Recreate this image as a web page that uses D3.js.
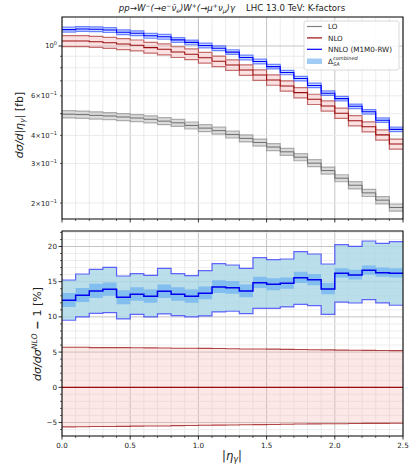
<!DOCTYPE html>
<html>
<head>
<meta charset="utf-8">
<script src="https://cdn.jsdelivr.net/npm/d3@7"></script>
<style>
  body { margin: 0; background: #fff; }
  text { font-family: "DejaVu Sans", sans-serif; fill: #222; }
</style>
</head>
<body>
<svg id="chart" width="410" height="465"></svg>
<script>
// bin edges in |eta_gamma|
const etaEdges = [0.0,0.1,0.2,0.3,0.4,0.5,0.6,0.7,0.8,0.9,1.0,1.1,1.2,1.3,1.4,1.5,1.6,1.7,1.8,1.9,2.0,2.1,2.2,2.3,2.4,2.5];

// top panel: cross sections [fb]
const loXsec  = [0.497,0.495,0.491,0.488,0.483,0.478,0.472,0.463,0.455,0.443,0.431,0.420,0.404,0.388,0.372,0.355,0.338,0.320,0.301,0.279,0.258,0.240,0.222,0.206,0.191];
const loErrPct = [3.7,3.7,3.7,3.6,3.6,3.6,3.6,3.6,3.6,3.6,3.6,3.6,3.6,3.6,3.6,3.6,3.6,3.6,3.6,3.6,3.6,3.7,3.7,3.7,3.7];
const nloXsec = [1.053,1.053,1.045,1.034,1.021,1.007,0.983,0.967,0.940,0.919,0.887,0.855,0.823,0.782,0.743,0.706,0.664,0.620,0.579,0.541,0.502,0.465,0.437,0.402,0.366];
const nnloBandPct = [2.5,2.5,2.5,2.5,2.5,2.5,2.5,2.5,2.4,2.4,2.4,2.4,2.4,2.4,2.4,2.3,2.3,2.3,2.3,2.3,2.3,2.3,2.3,2.3,2.3];

// bottom panel: ratio to NLO - 1 [%]
const nloUp = [5.68,5.68,5.63,5.63,5.63,5.62,5.60,5.58,5.54,5.54,5.52,5.50,5.48,5.44,5.44,5.42,5.38,5.36,5.34,5.32,5.28,5.26,5.24,5.22,5.21];
const nloDn = [-5.62,-5.60,-5.58,-5.56,-5.55,-5.52,-5.50,-5.50,-5.45,-5.42,-5.40,-5.38,-5.35,-5.33,-5.30,-5.28,-5.25,-5.22,-5.20,-5.18,-5.17,-5.15,-5.13,-5.12,-5.11];
const nnloRatio = [12.36,13.07,13.68,13.92,12.78,13.21,12.93,13.64,13.21,12.93,13.35,14.25,14.15,13.68,14.86,14.63,14.77,15.57,15.29,13.96,16.19,15.95,16.62,16.28,16.19];
const innerHi = [13.4,14.1,14.7,14.9,13.8,14.2,13.9,14.6,14.2,13.9,14.3,15.2,15.1,14.6,15.7,15.5,15.6,16.4,16.1,14.8,16.9,16.7,17.3,17.0,16.9];
const innerLo = [11.4,12.1,12.7,13.0,11.8,12.3,12.0,12.7,12.3,12.0,12.5,13.4,13.3,12.8,14.1,13.8,14.0,14.8,14.5,13.2,15.6,15.3,16.0,15.7,15.6];
const deltaUp = [15.24,16.09,16.76,17.04,15.81,16.14,15.91,16.90,16.14,15.86,16.56,17.56,17.37,16.90,18.41,18.13,18.22,19.26,18.93,17.51,20.26,20.03,20.78,20.45,20.68];
const deltaDn = [9.52,9.99,10.51,10.60,9.71,10.37,9.99,10.42,10.18,9.99,10.13,10.70,10.80,10.46,11.22,11.22,11.41,11.79,11.60,10.37,12.10,11.97,12.44,12.00,11.65];

// tick labels
const xTickVals = [0.0,0.5,1.0,1.5,2.0,2.5];
const topTickLabels = [[1.0,'10','0'],[0.6,'6×10','−1'],[0.4,'4×10','−1'],[0.3,'3×10','−1'],[0.2,'2×10','−1']];
const topMinor = [0.2,0.3,0.4,0.5,0.6,0.7,0.8,0.9];
const botTickVals = [-5,0,5,10,15,20];

const svg = d3.select('#chart');

const x = d3.scaleLinear().domain([0, 2.5]).range([62, 403]);
const yTop = d3.scaleLog().domain([0.1698, 1.346]).range([219, 17]);
const yBot = d3.scaleLinear().domain([-6.92, 22.2]).range([436, 231]);

function steps(vals) {
  const pts = vals.map((v, i) => [etaEdges[i], v]);
  pts.push([etaEdges[vals.length], vals[vals.length - 1]]);
  return pts;
}

function drawBand(g, y, lo, hi, fill, op) {
  const pts = lo.map((v, i) => [etaEdges[i], v, hi[i]]);
  pts.push([etaEdges[lo.length], lo[lo.length - 1], hi[hi.length - 1]]);
  g.append('path')
    .datum(pts)
    .attr('d', d3.area().curve(d3.curveStepAfter)
      .x(d => x(d[0])).y0(d => y(d[1])).y1(d => y(d[2])))
    .attr('fill', fill).attr('fill-opacity', op);
}

function drawStep(g, y, vals, color, w, op) {
  g.append('path')
    .datum(steps(vals))
    .attr('d', d3.line().curve(d3.curveStepAfter).x(d => x(d[0])).y(d => y(d[1])))
    .attr('fill', 'none').attr('stroke', color)
    .attr('stroke-width', w).attr('stroke-opacity', op);
}

const defs = svg.append('defs');
defs.append('clipPath').attr('id', 'clipTop').append('rect')
  .attr('x', 62).attr('y', 17).attr('width', 341).attr('height', 202);
defs.append('clipPath').attr('id', 'clipBot').append('rect')
  .attr('x', 62).attr('y', 231).attr('width', 341).attr('height', 205);

const minorX = d3.range(0, 26).map(i => i / 10);

// ---------- grids ----------
function vGrid(y0, y1) {
  minorX.forEach(v => {
    const major = Math.abs(v * 2 - Math.round(v * 2)) < 1e-6;
    svg.append('line')
      .attr('x1', x(v)).attr('x2', x(v)).attr('y1', y0).attr('y2', y1)
      .attr('stroke', major ? '#c4c4c4' : '#e6e6e6').attr('stroke-width', major ? 1 : 0.8);
  });
}
vGrid(17, 219);
vGrid(231, 436);

topMinor.concat([1.0]).forEach(v => {
  svg.append('line')
    .attr('x1', 62).attr('x2', 403).attr('y1', yTop(v)).attr('y2', yTop(v))
    .attr('stroke', v === 1.0 ? '#c4c4c4' : '#e6e6e6').attr('stroke-width', v === 1.0 ? 1 : 0.8);
});
d3.range(-6, 23).forEach(v => {
  const major = v % 5 === 0;
  svg.append('line')
    .attr('x1', 62).attr('x2', 403).attr('y1', yBot(v)).attr('y2', yBot(v))
    .attr('stroke', major ? '#c4c4c4' : '#e8e8e8').attr('stroke-width', major ? 1 : 0.8);
});

// ---------- top panel ----------
const gTop = svg.append('g').attr('clip-path', 'url(#clipTop)');

const loLo = loXsec.map((v, i) => v * (1 - loErrPct[i] / 100));
const loHi = loXsec.map((v, i) => v * (1 + loErrPct[i] / 100));
drawBand(gTop, yTop, loLo, loHi, '#b8b8b8', 0.5);
drawStep(gTop, yTop, loLo, '#808080', 1.2, 0.6);
drawStep(gTop, yTop, loHi, '#808080', 1.2, 0.6);
drawStep(gTop, yTop, loXsec, '#6e6e6e', 1, 1);

const nloLo = nloXsec.map((v, i) => v * (1 + nloDn[i] / 100));
const nloHi = nloXsec.map((v, i) => v * (1 + nloUp[i] / 100));
drawBand(gTop, yTop, nloLo, nloHi, '#f4a8a8', 0.35);
drawStep(gTop, yTop, nloLo, '#a01818', 1.2, 0.6);
drawStep(gTop, yTop, nloHi, '#a01818', 1.2, 0.6);
drawStep(gTop, yTop, nloXsec, '#9b0d0d', 1.1, 1);

const nnloXsec = nloXsec.map((v, i) => v * (1 + nnloRatio[i] / 100));
const nnloLo = nnloXsec.map((v, i) => v * (1 - nnloBandPct[i] / 100));
const nnloHi = nnloXsec.map((v, i) => v * (1 + nnloBandPct[i] / 100));
drawBand(gTop, yTop, nnloLo, nnloHi, '#7fa8ff', 0.45);
drawStep(gTop, yTop, nnloLo, '#1f3fff', 1.2, 0.6);
drawStep(gTop, yTop, nnloHi, '#1f3fff', 1.2, 0.6);
drawStep(gTop, yTop, nnloXsec, '#0000ff', 1.1, 1);

// ---------- bottom panel ----------
const gBot = svg.append('g').attr('clip-path', 'url(#clipBot)');
drawBand(gBot, yBot, nloDn, nloUp, '#f7b4b4', 0.3);
drawStep(gBot, yBot, nloUp, '#a01818', 1.1, 0.8);
drawStep(gBot, yBot, nloDn, '#a01818', 1.1, 0.8);
drawStep(gBot, yBot, nloXsec.map(() => 0), '#9b0d0d', 1.2, 1);

drawBand(gBot, yBot, deltaDn, deltaUp, '#a9d6e5', 0.8);
drawBand(gBot, yBot, innerLo, innerHi, '#5ea8f2', 0.6);
drawStep(gBot, yBot, deltaUp, '#2a2aff', 1.2, 0.7);
drawStep(gBot, yBot, deltaDn, '#2a2aff', 1.2, 0.7);
drawStep(gBot, yBot, nnloRatio, '#0000f0', 1.5, 1);

// ---------- frames ----------
[[17, 219], [231, 436]].forEach(([t, b]) => {
  svg.append('rect').attr('x', 62).attr('y', t).attr('width', 341).attr('height', b - t)
    .attr('fill', 'none').attr('stroke', '#000').attr('stroke-width', 1);
});

// ---------- ticks ----------
function xTicks(yb, labels) {
  minorX.forEach(v => {
    const major = Math.abs(v * 2 - Math.round(v * 2)) < 1e-6;
    svg.append('line').attr('x1', x(v)).attr('x2', x(v))
      .attr('y1', yb).attr('y2', yb + (major ? 3.5 : 2))
      .attr('stroke', '#000').attr('stroke-width', major ? 0.8 : 0.6);
  });
  if (labels) {
    xTickVals.forEach(v => {
      svg.append('text').attr('x', x(v)).attr('y', yb + 11.5)
        .attr('text-anchor', 'middle').attr('font-size', 7.2).text(v.toFixed(1));
    });
  }
}
xTicks(219, false);
xTicks(436, true);

topMinor.forEach(v => {
  svg.append('line').attr('x1', 62).attr('x2', 60).attr('y1', yTop(v)).attr('y2', yTop(v))
    .attr('stroke', '#000').attr('stroke-width', 0.6);
});
svg.append('line').attr('x1', 62).attr('x2', 58.5).attr('y1', yTop(1)).attr('y2', yTop(1))
  .attr('stroke', '#000').attr('stroke-width', 0.8);
topTickLabels.forEach(([v, base, exp]) => {
  const t = svg.append('text').attr('x', 57).attr('y', yTop(v) + 2.5)
    .attr('text-anchor', 'end').attr('font-size', 6.8);
  t.append('tspan').text(base);
  t.append('tspan').attr('dy', -3).attr('font-size', 5).text(exp);
});

d3.range(-6, 23).forEach(v => {
  const major = v % 5 === 0;
  svg.append('line').attr('x1', 62).attr('x2', major ? 58.5 : 60)
    .attr('y1', yBot(v)).attr('y2', yBot(v))
    .attr('stroke', '#000').attr('stroke-width', major ? 0.8 : 0.6);
});
botTickVals.forEach(v => {
  svg.append('text').attr('x', 57).attr('y', yBot(v) + 2.6)
    .attr('text-anchor', 'end').attr('font-size', 7.2).text(v < 0 ? '−' + Math.abs(v) : v);
});

// ---------- texts ----------
function rich(t, parts, fs) {
  let shift = 0;
  parts.forEach(p => {
    const ts = t.append('tspan').text(p.t);
    let target = 0;
    if (p.sup) target = -fs * 0.4;
    if (p.sub) target = fs * 0.2;
    if (target !== shift) ts.attr('dy', target - shift);
    shift = target;
    if (p.sup || p.sub) ts.attr('font-size', fs * 0.7);
    if (p.it) ts.attr('font-style', 'italic');
    if (p.b) ts.attr('font-weight', 'bold');
  });
}

const title = svg.append('text').attr('x', 232).attr('y', 11)
  .attr('text-anchor', 'middle').attr('font-size', 8.6);
rich(title, [
  {t: 'pp→W', it: 1}, {t: '−', sup: 1}, {t: '(→e', it: 1}, {t: '−', sup: 1},
  {t: 'ν\u0304', it: 1}, {t: 'e', sub: 1, it: 1}, {t: ')W', it: 1}, {t: '+', sup: 1},
  {t: '(→μ', it: 1}, {t: '+', sup: 1}, {t: 'ν', it: 1}, {t: 'μ', sub: 1, it: 1},
  {t: ')γ', it: 1}, {t: '\u00a0\u00a0\u00a0\u00a0LHC 13.0 TeV: K-factors'}
], 8.6);

const yl1 = svg.append('text').attr('transform', 'translate(23,125) rotate(-90)')
  .attr('text-anchor', 'middle').attr('font-size', 11);
rich(yl1, [{t: 'dσ/d|η', it: 1}, {t: 'γ', sub: 1, it: 1}, {t: '|', it: 1}, {t: ' [fb]'}], 11);

const yl2 = svg.append('text').attr('transform', 'translate(41,334) rotate(-90)')
  .attr('text-anchor', 'middle').attr('font-size', 11);
rich(yl2, [{t: 'dσ/dσ', it: 1}, {t: 'NLO', sup: 1, it: 1}, {t: ' − ', b: 1}, {t: '1 [%]'}], 11);

const xl = svg.append('text').attr('x', 232).attr('y', 460)
  .attr('text-anchor', 'middle').attr('font-size', 11.5);
rich(xl, [{t: '|η', it: 1}, {t: 'γ', sub: 1, it: 1}, {t: '|', it: 1}], 11.5);

// ---------- legend ----------
const lg = svg.append('g');
lg.append('rect').attr('x', 304).attr('y', 21).attr('width', 95).attr('height', 49).attr('rx', 2)
  .attr('fill', '#fff').attr('fill-opacity', 0.85).attr('stroke', '#d0d0d0').attr('stroke-width', 0.8);
const legendItems = [
  {label: 'LO', color: '#808080'},
  {label: 'NLO', color: '#9b0d0d'},
  {label: 'NNLO (M1M0-RW)', color: '#0000ff'}
];
legendItems.forEach((d, i) => {
  const yy = 26.5 + i * 11.4;
  lg.append('line').attr('x1', 307).attr('x2', 322).attr('y1', yy).attr('y2', yy)
    .attr('stroke', d.color).attr('stroke-width', 1.2);
  lg.append('text').attr('x', 328).attr('y', yy + 2.6).attr('font-size', 7.2).text(d.label);
});
lg.append('rect').attr('x', 307).attr('y', 58.5).attr('width', 15).attr('height', 5.5)
  .attr('fill', '#9fcbf5');
const dt = lg.append('text').attr('x', 328).attr('y', 64).attr('font-size', 7.2);
dt.append('tspan').text('Δ');
dt.append('tspan').attr('x', 333).attr('dy', -4.5).attr('font-size', 5).attr('font-style', 'italic').text('combined');
dt.append('tspan').attr('x', 333).attr('dy', 6).attr('font-size', 5).attr('font-style', 'italic').text('SA');
</script>
</body>
</html>
